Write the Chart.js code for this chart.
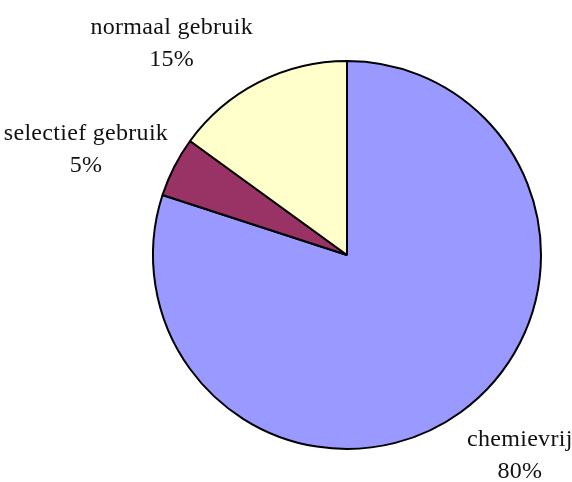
<!DOCTYPE html>
<html>
<head>
<meta charset="utf-8">
<script src="https://cdn.jsdelivr.net/npm/chart.js@4/dist/chart.umd.min.js"></script>
<style>
  html, body { margin: 0; padding: 0; background: #fff; }
  #wrap { width: 572px; height: 482px; }
</style>
</head>
<body>
<div id="wrap"><canvas id="myPieChart" width="572" height="482"></canvas></div>
<script>
// =================================== Gebruik van chemie ===================================
const categories = ["chemievrij", "selectief gebruik", "normaal gebruik"];
const shares = [80, 5, 15];
const sliceColors = ["#9999FF", "#993366", "#FFFFCC"];

// labels outside the pie, name + percentage, like the Excel "best fit"
const outsideLabels = {
  id: "outsideLabels",
  afterDatasetsDraw(chart, args, opts) {
    const ctx = chart.ctx;
    const meta = chart.getDatasetMeta(0);
    const total = shares.reduce((a, b) => a + b, 0);
    ctx.save();
    ctx.font = opts.font;
    ctx.letterSpacing = opts.letterSpacing;
    ctx.fillStyle = "#111";
    ctx.textAlign = "center";
    ctx.textBaseline = "alphabetic";
    meta.data.forEach(function (arc, i) {
      const p = arc.getProps(["x", "y", "startAngle", "endAngle", "outerRadius"], true);
      const mid = (p.startAngle + p.endAngle) / 2;
      const dx = Math.cos(mid);
      const dy = Math.sin(mid);
      const ax = p.x + dx * p.outerRadius;
      const ay = p.y + dy * p.outerRadius;
      const lines = [categories[i], Math.round((shares[i] / total) * 100) + "%"];
      const w = Math.max(...lines.map((t) => ctx.measureText(t).width));
      const cx = ax + Math.sign(dx) * (opts.gap + w / 2);
      const cy = ay + dy * opts.drop + opts.shift;
      ctx.fillText(lines[0], cx, cy - opts.lineHeight / 2);
      ctx.fillText(lines[1], cx, cy + opts.lineHeight / 2);
    });
    ctx.restore();
  },
};

function renderPieChart() {
  const ctx = document.getElementById("myPieChart").getContext("2d");

  new Chart(ctx, {
    type: "pie",
    data: {
      labels: categories,
      datasets: [
        {
          data: shares,
          backgroundColor: sliceColors,
          borderColor: "#000",
          borderWidth: 2,
          hoverOffset: 0,
        },
      ],
    },
    options: {
      responsive: false,
      animation: false,
      layout: {
        padding: { left: 152, right: 30, top: 60, bottom: 32 },
      },
      plugins: {
        legend: { display: false },
        tooltip: { enabled: false },
        outsideLabels: {
          font: "24px 'Liberation Serif', serif",
          letterSpacing: "0.3px",
          lineHeight: 32,
          gap: 6,
          drop: 48,
          shift: 11,
        },
      },
    },
    plugins: [outsideLabels],
  });
}

renderPieChart();
</script>
</body>
</html>
